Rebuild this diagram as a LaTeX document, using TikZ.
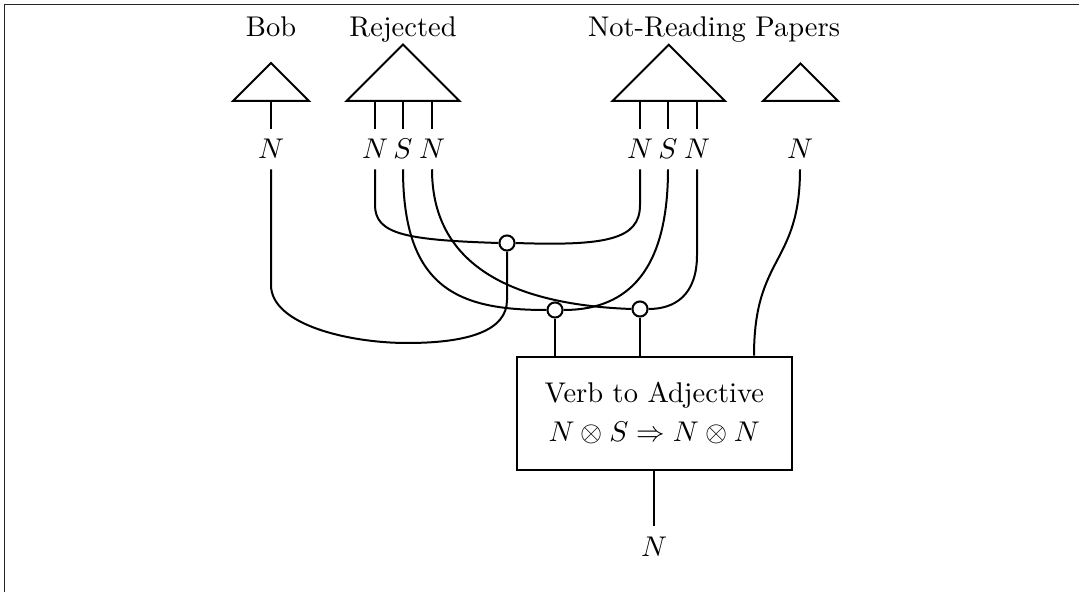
\documentclass[tikz,border=0pt]{standalone}
\begin{document}
\begin{tikzpicture}[x=0.35088pt,y=-0.35088pt,
  wire/.style={line width=0.7pt},
  tri/.style={line width=0.7pt, line join=miter},
  frameline/.style={line width=0.6pt, draw=black!85},
  word/.style={anchor=base, inner sep=0pt},
  lbl/.style={anchor=base, inner sep=3.4pt, text height=6.85pt, text depth=0pt},
  dotnode/.style={circle, draw, fill=white, line width=0.7pt, minimum size=5.3pt, inner sep=0pt},
  boxnode/.style={draw, line width=0.7pt, minimum width=96.5pt, minimum height=39.8pt,
                  align=center, inner sep=0pt}]
\useasboundingbox (0,0) rectangle (1079,592);

% open frame along the top and left
\draw[frameline] (4.5,592) -- (4.5,4.5) -- (1079,4.5);

% word states
\draw[tri] (233,101) -- (271,63) -- (309,101) -- cycle;
\draw[tri] (346.5,101) -- (403,44.5) -- (459.5,101) -- cycle;
\draw[tri] (612.5,101) -- (668.7,44.8) -- (724.9,101) -- cycle;
\draw[tri] (763,101) -- (800.5,63.5) -- (838,101) -- cycle;
\coordinate (bobB) at (271,101);
\coordinate (rejB) at (403,101);
\coordinate (nrpB) at (668.7,101);

\node[word] (tbob) at (271,36.5) {Bob};
\node[word] (trej) at (403,36.5) {Rejected};
\node[word] (tnrp) at (714,36.5) {Not-Reading Papers};

% wire types
\node[lbl] (bN) at (271,159) {$N$};
\node[lbl] (r1) at (375,159) {$N$};
\node[lbl] (r2) at (403,159) {$S$};
\node[lbl] (r3) at (432,159) {$N$};
\node[lbl] (p1) at (640,159) {$N$};
\node[lbl] (p2) at (668,159) {$S$};
\node[lbl] (p3) at (697,159) {$N$};
\node[lbl] (q1) at (800,159) {$N$};

\draw[wire] (bobB) -- (bN.north);
\draw[wire] (r1.north) -- (r1.north |- rejB);
\draw[wire] (r2.north) -- (r2.north |- rejB);
\draw[wire] (r3.north) -- (r3.north |- rejB);
\draw[wire] (p1.north) -- (p1.north |- nrpB);
\draw[wire] (p2.north) -- (p2.north |- nrpB);
\draw[wire] (p3.north) -- (p3.north |- nrpB);

% spiders
\node[dotnode] (d1) at (507,243) {};
\node[dotnode] (d2) at (555,310) {};
\node[dotnode] (d3) at (640,309) {};

% the box
\node[boxnode] (vta) at (654.2,413.3) {Verb to Adjective\\[1.7pt]$N\otimes S\Rightarrow N\otimes N$};
\node[lbl] (outN) at (654,556) {$N$};
\draw[wire] (vta.south -| outN.north) -- (outN.north);

% wiring
\draw[wire] (r1.south) -- (375,205) .. controls (375,234) and (405,240) .. (d1.west);
\draw[wire] (d1.east) .. controls (605,246) and (640,240) .. (640,205) -- (p1.south);
\draw[wire] (d1.south) -- (507,300) .. controls (507,330) and (470,343) .. (407,343)
            .. controls (350,343) and (271,325) .. (271,285) -- (bN.south);
\draw[wire] (r2.south) .. controls (403,290) and (460,310) .. (d2.west);
\draw[wire] (r3.south) .. controls (432,270) and (520,305) .. (d3.west);
\draw[wire] (p2.south) .. controls (668,280) and (620,310) .. (d2.east);
\draw[wire] (p3.south) -- (697,255) .. controls (697,295) and (675,309) .. (d3.east);
\draw[wire] (d2.south) -- (d2.south |- vta.north);
\draw[wire] (d3.south) -- (d3.south |- vta.north);
\draw[wire] (q1.south) .. controls (800,265) and (754,255) .. (754,0 |- vta.north);
\end{tikzpicture}
\end{document}
